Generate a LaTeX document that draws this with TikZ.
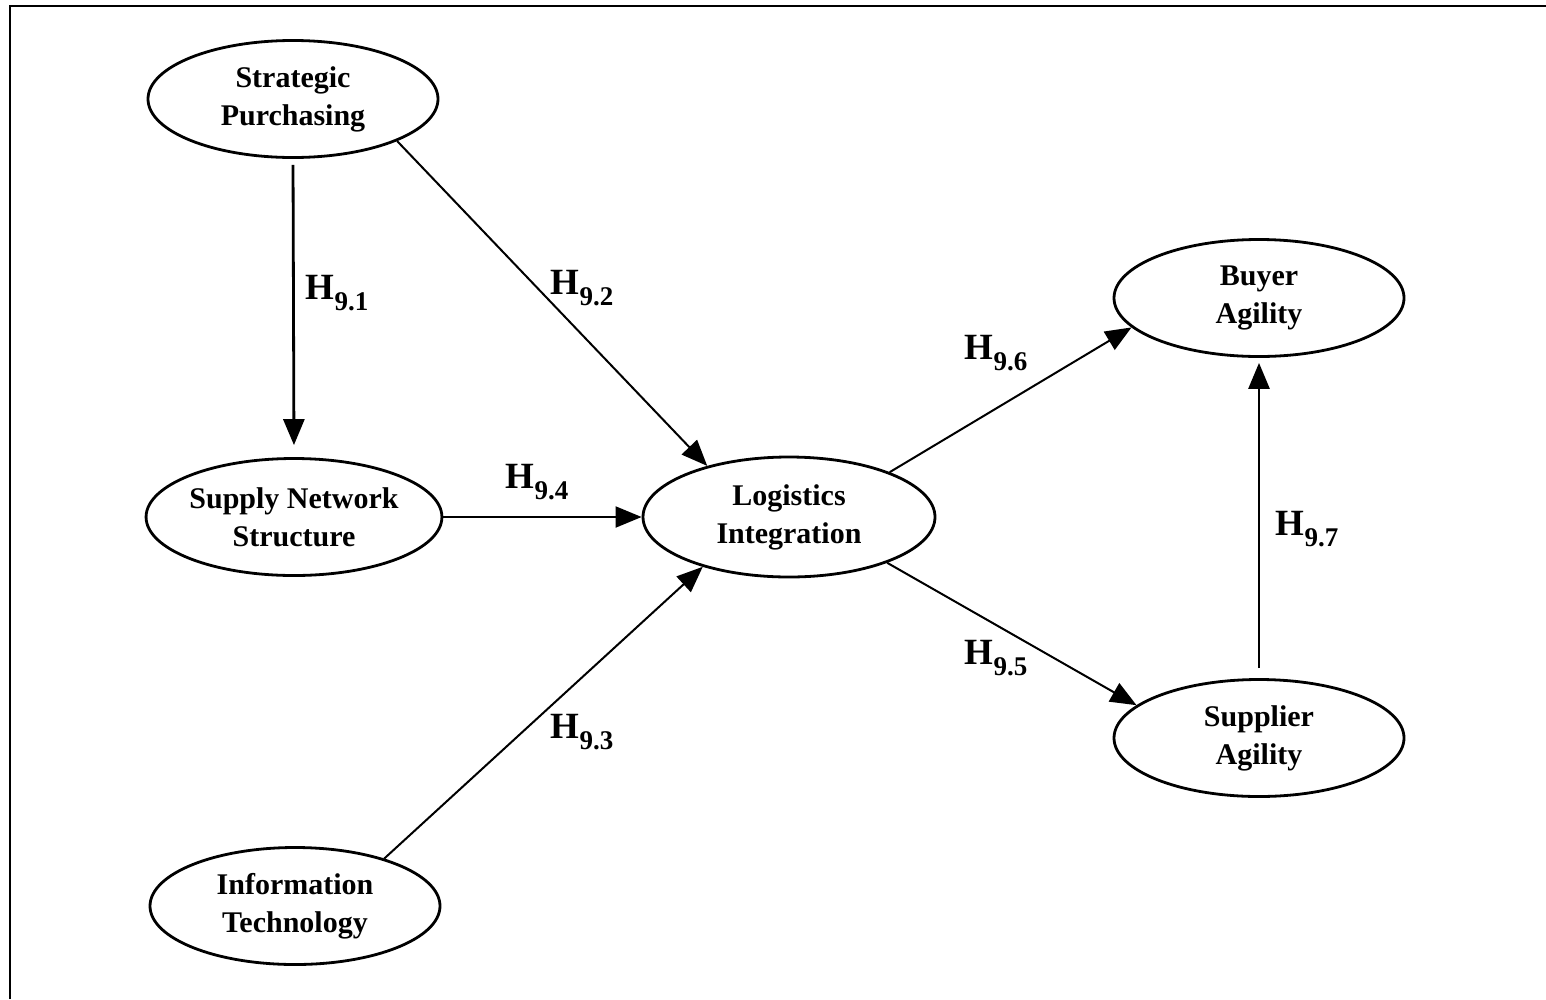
\documentclass[tikz,border=0pt]{standalone}
\usepackage{fontspec}
\setmainfont{Liberation Serif}
\usetikzlibrary{arrows.meta,shapes.geometric}
\newcommand{\hyplabel}[1]{H\raisebox{-0.3em}{\fontsize{27}{27}\selectfont #1}}
\begin{document}
\begin{tikzpicture}[x=1pt,y=-1pt,
  construct/.style={draw,line width=2.8pt,ellipse,minimum width=290pt,minimum height=117pt,inner sep=0pt,
    align=center,font=\fontsize{30}{38}\selectfont\bfseries},
  path/.style={line width=2pt,-{Triangle[length=26pt,width=21pt]}},
  vpath/.style={path,line width=2.8pt},
  hyp/.style={font=\fontsize{37}{40}\selectfont\bfseries}]
  \useasboundingbox (0,0) rectangle (1546,999);
  % frame
  \draw[line width=2.6pt] (10,999) -- (10,6) -- (1546,6);

  % constructs
  \node[construct] (sp) at (293,99) {Strategic\\Purchasing};
  \node[construct] (sns) at (294,517) {Supply Network\\Structure};
  \node[construct] (it) at (295,906) {Information\\Technology};
  \node[construct,minimum width=292pt,minimum height=120pt] (li) at (789,517) {Logistics\\Integration};
  \node[construct] (ba) at (1259,298) {Buyer\\Agility};
  \node[construct] (sa) at (1259,738) {Supplier\\Agility};

  % hypothesised paths
  \draw[vpath,shorten <=6pt,shorten >=12pt] (sp.south) -- (sns.north);
  \draw[path] (sp.-22.4) -- (li.148.5);
  \draw[path] (sns.east) -- (li.west);
  \draw[path] (it.28.8) -- (li.210.7);
  \draw[path] (li.24.3) -- (ba.193.7);
  \draw[path] (li.-25.2) -- (sa.165.4);
  \draw[vpath,shorten <=10pt,shorten >=5pt] (sa.north) -- (ba.south);

  % labels
  \node[hyp] (h1) at (337,293) {\hyplabel{9.1}};
  \node[hyp] (h2) at (582,288) {\hyplabel{9.2}};
  \node[hyp] (h4) at (537,482) {\hyplabel{9.4}};
  \node[hyp] (h3) at (582,732) {\hyplabel{9.3}};
  \node[hyp] (h6) at (996,353) {\hyplabel{9.6}};
  \node[hyp] (h5) at (996,658) {\hyplabel{9.5}};
  \node[hyp] (h7) at (1307,529) {\hyplabel{9.7}};
\end{tikzpicture}
\end{document}
